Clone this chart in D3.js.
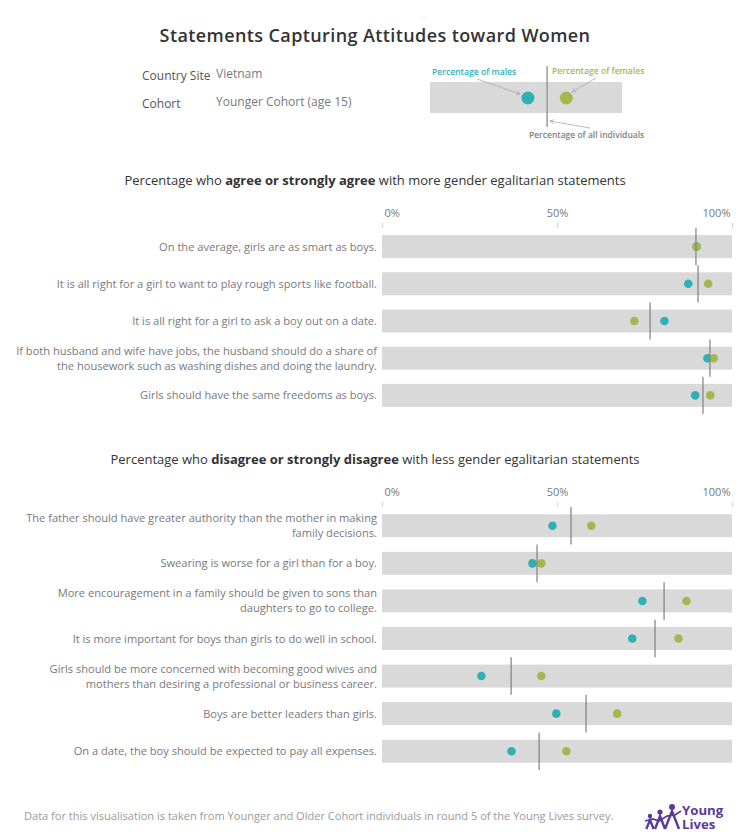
<!DOCTYPE html>
<html>
<head>
<meta charset="utf-8">
<script src="https://cdn.jsdelivr.net/npm/d3@7"></script>
<style>
body { margin: 0; background: #fff; }
text { font-family: "Open Sans", Lato, sans-serif; }
</style>
</head>
<body>
<div id="chart"></div>
<script>
// agree panel
var agreeLabels = [
	["On the average, girls are as smart as boys."],
	["It is all right for a girl to want to play rough sports like football."],
	["It is all right for a girl to ask a boy out on a date."],
	["If both husband and wife have jobs, the husband should do a share of", "the housework such as washing dishes and doing the laundry."],
	["Girls should have the same freedoms as boys."]
];
var agreeMale = [89.9, 87.5, 80.7, 93.0, 89.5];
var agreeFemale = [89.9, 93.2, 72.1, 94.8, 93.8];
var agreeAll = [89.7, 90.3, 76.6, 93.7, 91.7];

// disagree panel
var disagreeLabels = [
	["The father should have greater authority than the mother in making", "family decisions."],
	["Swearing is worse for a girl than for a boy."],
	["More encouragement in a family should be given to sons than", "daughters to go to college."],
	["It is more important for boys than girls to do well in school."],
	["Girls should be more concerned with becoming good wives and", "mothers than desiring a professional or business career."],
	["Boys are better leaders than girls."],
	["On a date, the boy should be expected to pay all expenses."]
];
var disagreeMale = [48.7, 43.0, 74.4, 71.5, 28.4, 49.8, 37.0];
var disagreeFemale = [59.8, 45.5, 87.0, 84.7, 45.5, 67.2, 52.7];
var disagreeAll = [54.0, 44.3, 80.6, 78.0, 36.9, 58.3, 44.9];

var tickValues = [0, 50, 100];

// legend sample row
var legendMale = 51, legendAll = 61, legendFemale = 71;

var teal = "#2fb0b3", olive = "#a5b84f", barGrey = "#d9d9d9", lineGrey = "#9a9a9a";
var labelGrey = "#77797c", darkText = "#333333";

var svg = d3.select("#chart").append("svg")
	.attr("width", 750)
	.attr("height", 840);

var x = d3.scaleLinear().domain([0, 100]).range([382, 732]);

svg.append("text")
	.attr("x", 375).attr("y", 42)
	.attr("text-anchor", "middle")
	.attr("font-size", 18)
	.attr("font-weight", 600)
	.attr("letter-spacing", 0.4)
	.attr("fill", darkText)
	.text("Statements Capturing Attitudes toward Women");

// filters
function plain(px, py, str, size, col) {
	return svg.append("text").attr("x", px).attr("y", py)
		.attr("font-size", size).attr("fill", col).text(str);
}
plain(142, 80, "Country Site", 12, "#555");
plain(142, 108, "Cohort", 12, "#555");
plain(216, 78, "Vietnam", 12, labelGrey);
plain(216, 106, "Younger Cohort (age 15)", 12, labelGrey);

// legend
var lx = d3.scaleLinear().domain([0, 100]).range([430, 622]);
svg.append("rect").attr("x", lx(0)).attr("y", 82)
	.attr("width", lx(100) - lx(0)).attr("height", 31).attr("fill", barGrey);
svg.append("line").attr("x1", lx(legendAll)).attr("x2", lx(legendAll))
	.attr("y1", 66).attr("y2", 127)
	.attr("stroke", lineGrey).attr("stroke-width", 1.5);
svg.append("circle").attr("cx", lx(legendMale)).attr("cy", 98).attr("r", 6.5).attr("fill", teal);
svg.append("circle").attr("cx", lx(legendFemale)).attr("cy", 98).attr("r", 6.5).attr("fill", olive);
plain(432, 75, "Percentage of males", 8.6, teal).attr("font-weight", 600);
plain(552, 74, "Percentage of females", 8.6, olive).attr("font-weight", 600);
plain(529, 138, "Percentage of all individuals", 8.5, "#808080").attr("font-weight", 600);

var arrows = [
	[477, 79, 520, 94],
	[596, 78, 572, 92],
	[590, 128, 550, 121]
];
svg.append("defs").append("marker")
	.attr("id", "head").attr("viewBox", "0 0 6 6")
	.attr("refX", 5).attr("refY", 3)
	.attr("markerWidth", 6).attr("markerHeight", 6).attr("orient", "auto")
	.append("path").attr("d", "M0,0.5L5,3L0,5.5").attr("fill", "none").attr("stroke", "#aaa");
svg.selectAll(".arrow").data(arrows).enter().append("line")
	.attr("class", "arrow")
	.attr("x1", function(d) { return d[0]; }).attr("y1", function(d) { return d[1]; })
	.attr("x2", function(d) { return d[2]; }).attr("y2", function(d) { return d[3]; })
	.attr("stroke", "#aaa").attr("stroke-width", 0.8)
	.attr("marker-end", "url(#head)");

// one panel of statements
function panel(labels, male, female, all, top, bottom, tickY) {
	var y = d3.scaleBand().domain(d3.range(labels.length)).range([top, bottom]);
	var g = svg.append("g");

	var axis = d3.axisTop(x).tickValues(tickValues).tickSize(5).tickFormat(function(d) { return d + "%"; });
	var ax = g.append("g").attr("transform", "translate(0," + top + ")").call(axis);
	ax.select(".domain").remove();
	ax.selectAll(".tick line").attr("stroke", "#dcdcdc").attr("stroke-width", 1.5);
	ax.selectAll(".tick text")
		.attr("font-size", 11).attr("fill", labelGrey)
		.attr("font-family", "Open Sans")
		.attr("y", tickY - top)
		.attr("dy", 0)
		.attr("text-anchor", function(d) { return d == 0 ? "start" : d == 100 ? "end" : "middle"; })
		.attr("dx", function(d) { return d == 0 ? 2 : d == 100 ? -2 : 0; });

	var rows = g.selectAll(".row").data(labels).enter().append("g")
		.attr("class", "row")
		.attr("transform", function(d, i) { return "translate(0," + (y(i) + y.bandwidth() / 2) + ")"; });

	rows.append("rect")
		.attr("x", x(0)).attr("y", -11.5)
		.attr("width", x(100) - x(0)).attr("height", 23)
		.attr("fill", barGrey);

	rows.append("circle").attr("cx", function(d, i) { return x(male[i]); })
		.attr("r", 4.3).attr("fill", teal);
	rows.append("circle").attr("cx", function(d, i) { return x(female[i]); })
		.attr("r", 4.3).attr("fill", olive);

	rows.append("line")
		.attr("x1", function(d, i) { return x(all[i]); })
		.attr("x2", function(d, i) { return x(all[i]); })
		.attr("y1", -y.bandwidth() / 2).attr("y2", y.bandwidth() / 2)
		.attr("stroke", "#808080").attr("stroke-opacity", 0.8).attr("stroke-width", 1.5);

	rows.each(function(d) {
		var t = d3.select(this).append("text")
			.attr("text-anchor", "end")
			.attr("font-size", 11.1)
			.attr("fill", labelGrey);
		d.forEach(function(line, k) {
			t.append("tspan").attr("x", 377)
				.attr("y", 4 + (k - (d.length - 1) / 2) * 15)
				.text(line);
		});
	});
}

panel(agreeLabels, agreeMale, agreeFemale, agreeAll, 228, 414, 217);
panel(disagreeLabels, disagreeMale, disagreeFemale, disagreeAll, 507, 770, 496);

// panel headings
function heading(py, parts) {
	var t = svg.append("text").attr("x", 375).attr("y", py)
		.attr("text-anchor", "middle").attr("font-size", 13).attr("fill", darkText);
	parts.forEach(function(p, i) {
		t.append("tspan").attr("font-weight", i == 1 ? 700 : 400).text(p);
	});
}
heading(185, ["Percentage who ", "agree or strongly agree", " with more gender egalitarian statements"]);
heading(464, ["Percentage who ", "disagree or strongly disagree", " with less gender egalitarian statements"]);

// footer
plain(24, 820, "Data for this visualisation is taken from Younger and Older Cohort individuals in round 5 of the Young Lives survey.", 11.05, "#9a9a9a");

// logo
var purple = "#5b3a9b";
var logo = svg.append("g").attr("transform", "translate(645,804)");
var people = [[5, 12, 2.2, 11], [15, 8, 2.6, 15], [27, 3, 3, 21]];
people.forEach(function(p) {
	logo.append("circle").attr("cx", p[0]).attr("cy", p[1]).attr("r", p[2]).attr("fill", purple);
	logo.append("path")
		.attr("d", "M" + (p[0] - p[3] / 3) + ",25L" + p[0] + "," + (p[1] + 4) + "L" + (p[0] + p[3] / 3) + ",25")
		.attr("fill", "none").attr("stroke", purple).attr("stroke-width", 2.4);
});
logo.append("path").attr("d", "M0,17L8,15L14,17L22,12L30,11L36,7")
	.attr("fill", "none").attr("stroke", purple).attr("stroke-width", 1.8);
// both words in one text element, their line boxes would collide otherwise
var logoText = logo.append("text").attr("font-size", 13.2).attr("font-weight", 700).attr("fill", purple);
logoText.append("tspan").attr("x", 37).attr("y", 11).text("Young");
logoText.append("tspan").attr("x", 37).attr("y", 25).text("Lives");
</script>
</body>
</html>
